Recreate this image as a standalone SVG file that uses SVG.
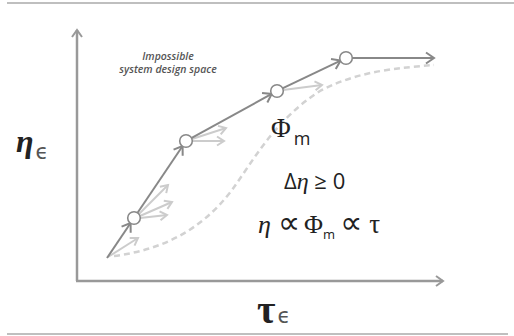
<svg xmlns="http://www.w3.org/2000/svg" width="514" height="336" viewBox="0 0 514 336">
<style>
.frame{stroke:#aaa;stroke-width:1.5;fill:none}
.axis{stroke:#999;stroke-width:2.5;fill:none}
.main{stroke:#888;stroke-width:2;fill:none}
.light{stroke:#ccc;stroke-width:2;fill:none}
.dash{stroke:#d2d2d2;stroke-width:2.5;fill:none;stroke-dasharray:6 4}
.node{fill:#fff;stroke:#888;stroke-width:1.6}
.note{font-family:"Open Sans","Liberation Sans",sans-serif;font-style:italic;font-weight:600;font-size:10.5px;fill:#555;text-anchor:middle}
.ser{font-family:"Liberation Serif","DejaVu Serif",serif;fill:#222}
.san{font-family:"Open Sans","Liberation Sans",sans-serif;fill:#222}
.prop{font-family:"DejaVu Sans",sans-serif;fill:#222}
.eps{font-family:"DejaVu Sans",sans-serif;fill:#555}
</style>
<defs>
<marker id="ah" markerUnits="userSpaceOnUse" markerWidth="14" markerHeight="14" refX="10" refY="7" orient="auto" viewBox="0 0 14 14">
<path d="M2,1.5 L10,7 L2,12.5" fill="none" stroke="#888" stroke-width="2"/>
</marker>
<marker id="ahl" markerUnits="userSpaceOnUse" markerWidth="14" markerHeight="14" refX="10" refY="7" orient="auto" viewBox="0 0 14 14">
<path d="M3,2.5 L10,7 L3,11.5" fill="none" stroke="#ccc" stroke-width="2"/>
</marker>
<marker id="ax" markerUnits="userSpaceOnUse" markerWidth="14" markerHeight="14" refX="10" refY="7" orient="auto" viewBox="0 0 14 14">
<path d="M3,2 L10,7 L3,12" fill="none" stroke="#999" stroke-width="2"/>
</marker>
</defs>
<line class="frame" x1="7" y1="3" x2="514" y2="3"/>
<line class="frame" x1="7" y1="334" x2="508" y2="334"/>
<g id="axes">
<line class="axis" x1="77" y1="281" x2="77" y2="30" marker-end="url(#ax)"/>
<line class="axis" x1="76" y1="281" x2="443" y2="281" marker-end="url(#ax)"/>
</g>
<path class="dash" d="M114,256 C160,250 200,232 232,190 C255,158 275,120 320,91 C360,70 400,68 434,65"/>
<g id="connectors">
<line class="light" x1="108" y1="257" x2="138" y2="238" marker-end="url(#ahl)"/>
<line class="light" x1="139" y1="214" x2="168" y2="185" marker-end="url(#ahl)"/>
<line class="light" x1="140" y1="216" x2="172" y2="202" marker-end="url(#ahl)"/>
<line class="light" x1="140" y1="218" x2="167" y2="215" marker-end="url(#ahl)"/>
<line class="light" x1="192" y1="139" x2="226" y2="128" marker-end="url(#ahl)"/>
<line class="light" x1="192" y1="141" x2="224" y2="141" marker-end="url(#ahl)"/>
<line class="light" x1="283" y1="90" x2="322" y2="85" marker-end="url(#ahl)"/>
<line class="main" x1="107" y1="258" x2="130.6" y2="223" marker-end="url(#ah)"/>
<line class="main" x1="137.4" y1="213" x2="182.6" y2="146" marker-end="url(#ah)"/>
<line class="main" x1="191.3" y1="138.1" x2="271.7" y2="93.9" marker-end="url(#ah)"/>
<line class="main" x1="282.4" y1="88.4" x2="340.6" y2="60.6" marker-end="url(#ah)"/>
<line class="main" x1="352" y1="58" x2="434" y2="58" marker-end="url(#ah)"/>
</g>
<g id="n1"><circle class="node" cx="134" cy="218" r="6.3"/></g>
<g id="n2"><circle class="node" cx="186" cy="141" r="6.3"/></g>
<g id="n3"><circle class="node" cx="277" cy="91" r="6.3"/></g>
<g id="n4"><circle class="node" cx="346" cy="58" r="6.3"/></g>
<text class="note" x="168" y="60">Impossible</text>
<text class="note" x="168" y="73">system design space</text>
<text x="16" y="152"><tspan class="ser" font-size="32" font-weight="bold" font-style="italic">η</tspan><tspan class="eps" font-size="21" dx="2" dy="7">ϵ</tspan></text>
<text x="257" y="323"><tspan class="ser" font-size="40" font-weight="bold">τ</tspan><tspan class="eps" font-size="21" dx="2">ϵ</tspan></text>
<text x="271" y="137"><tspan class="ser" font-size="27">Φ</tspan><tspan class="san" font-size="18" dx="3" dy="8">m</tspan></text>
<text x="284" y="189"><tspan class="san" font-size="22">Δ</tspan><tspan class="ser" font-size="24" font-style="italic">η</tspan><tspan class="san" font-size="22"> ≥ 0</tspan></text>
<text x="258" y="233"><tspan class="ser" font-size="26" font-style="italic">η</tspan><tspan class="prop" font-size="31" dx="7">∝</tspan><tspan class="ser" font-size="26" dx="4">Φ</tspan><tspan class="san" font-size="13" dy="6">m</tspan><tspan class="prop" font-size="31" dx="5" dy="-6">∝</tspan><tspan class="ser" font-size="27" dx="7">τ</tspan></text>
</svg>
